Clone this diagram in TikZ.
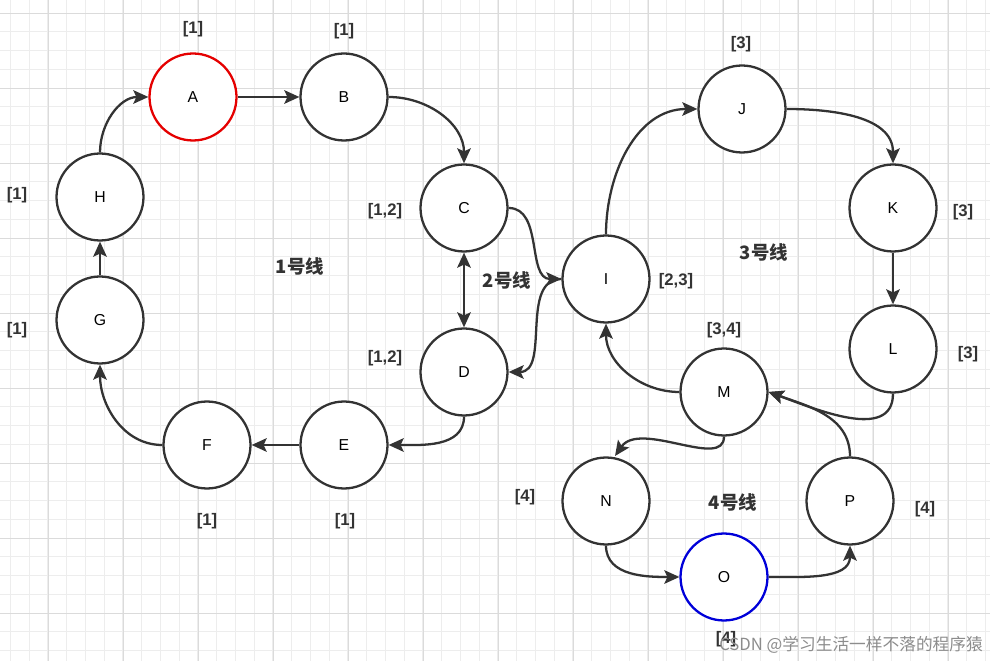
\documentclass[tikz,border=0pt]{standalone}
\usepackage{fontspec}
\setmainfont{Liberation Sans}
\newfontfamily\cjk{Noto Sans CJK SC}
\usepackage{tikz}
\usetikzlibrary{arrows.meta,positioning,calc}

\begin{document}
\begin{tikzpicture}[x=0.02cm, y=-0.02cm,
  >={Stealth[length=3mm, width=2.7mm, inset=0.6mm]},
  stn/.style={circle, draw=black!80, line width=1.3pt, fill=white, minimum size=1.74cm, inner sep=0pt, font=\fontsize{9}{10}\selectfont},
  tag/.style={font=\fontsize{9.5}{11}\selectfont\bfseries, text=black!80},
  linename/.style={font=\fontsize{10.5}{12}\selectfont\cjk\bfseries, text=black!80},
  arrow/.style={->, line width=1.3pt, draw=black!80}
]
\useasboundingbox (0,0) rectangle (990,661);
\fill[white] (0,0) rectangle (990,661);
% grid
\foreach \k in {0,...,53} {
  \draw[black!7, line width=0.4pt] (10.25+18.75*\k,0) -- (10.25+18.75*\k,661);
  \draw[black!7, line width=0.4pt] (0,13+18.75*\k) -- (990,13+18.75*\k);
}
\foreach \k in {0,...,13} {
  \draw[black!14, line width=0.5pt] (48+75*\k,0) -- (48+75*\k,661);
  \draw[black!14, line width=0.5pt] (0,13+75*\k) -- (990,13+75*\k);
}

% line 1
\node[stn, draw=red!90!black] (A) at (193,97) {A};
\node[stn] (B) at (344,97) {B};
\node[stn] (C) at (464,208) {C};
\node[stn] (D) at (464,372) {D};
\node[stn] (E) at (344,445) {E};
\node[stn] (F) at (207,445) {F};
\node[stn] (G) at (100,320) {G};
\node[stn] (H) at (100,197) {H};
% line 2/3
\node[stn] (I) at (606,279) {I};
\node[stn] (J) at (742,109) {J};
\node[stn] (K) at (893,208) {K};
\node[stn] (L) at (893,349) {L};
% line 4
\node[stn] (M) at (724,392) {M};
\node[stn] (N) at (606,501) {N};
\node[stn, draw=blue!85!black] (O) at (724,577) {O};
\node[stn] (P) at (850,501) {P};

% line tags
\node[tag] (tA) at (193,29) {[1]};
\node[tag] (tB) at (344,31) {[1]};
\node[tag] (tC) at (385,211) {[1,2]};
\node[tag] (tD) at (385,358) {[1,2]};
\node[tag] (tE) at (345,521) {[1]};
\node[tag] (tF) at (207,521) {[1]};
\node[tag] (tG) at (17,330) {[1]};
\node[tag] (tH) at (17,195) {[1]};
\node[tag] (tI) at (676,281) {[2,3]};
\node[tag] (tJ) at (741,44) {[3]};
\node[tag] (tK) at (963,212) {[3]};
\node[tag] (tL) at (968,354) {[3]};
\node[tag] (tM) at (724,330) {[3,4]};
\node[tag] (tN) at (525,497) {[4]};
\node[tag] (tO) at (726,639) {[4]};
\node[tag] (tP) at (925,509) {[4]};

\node[linename] (l1) at (300,266) {1号线};
\node[linename] (l2) at (507,280) {2号线};
\node[linename] (l3) at (764,252) {3号线};
\node[linename] (l4) at (733,502) {4号线};

% straight links
\foreach \a/\b in {A/B, E/F, G/H, K/L} \draw[arrow] (\a) -- (\b);
\draw[arrow, <->] (C) -- (D);

% curved links
\foreach \a/\oa/\b/\ib/\o/\i in {H/north/A/west/90/180, B/east/C/north/0/90,
    D/south/E/east/-90/0, F/west/G/south/180/-90, C/east/I/west/0/180,
    I/west/D/east/180/0, I/north/J/west/90/180, J/east/K/north/0/90,
    M/west/I/south/180/-90, N/south/O/west/-90/180, O/east/P/south/0/-90}
  \draw[arrow] (\a.\oa) to[out=\o, in=\i] (\b.\ib);
\draw[arrow] (L.south) to[out=-90, in=-20] (M.east);
\draw[arrow] (P.north) to[out=90, in=-20] (M.east);
\draw[arrow] (M.south) .. controls (724,470) and (640,420) .. (615,456);

\node[font=\fontsize{9.5}{11}\selectfont\cjk, text=black!45] (wm) at (851,645) {CSDN @学习生活一样不落的程序猿};
\end{tikzpicture}
\end{document}
